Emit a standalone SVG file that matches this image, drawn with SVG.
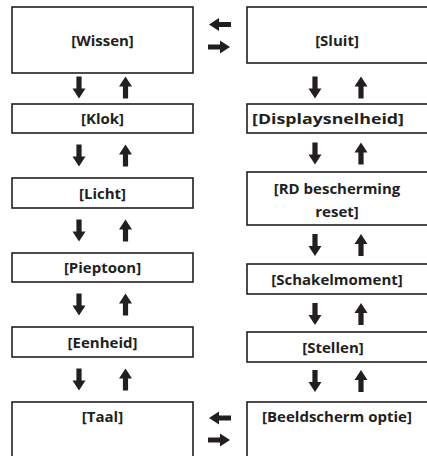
<svg xmlns="http://www.w3.org/2000/svg" width="427" height="456" viewBox="0 0 427 456">
<style>
.box{fill:#fff;stroke:#231f20;stroke-width:1.6}
.t{font-family:"Open Sans","Noto Sans",sans-serif;font-weight:700;font-size:15px;fill:#231f20;text-anchor:middle}
.ar{fill:#231f20}
</style>
<defs>
<path id="dn" d="M-2.6,0 H2.6 V12 H6.5 L0,22 L-6.5,12 H-2.6 Z"/>
</defs>
<rect width="427" height="456" fill="#fff"/>
<g id="wissen"><rect class="box" x="12" y="7" width="181" height="66"/><text class="t" x="102.5" y="46">[Wissen]</text></g>
<g id="klok"><rect class="box" x="12" y="104" width="181" height="29"/><text class="t" x="102.5" y="124">[Klok]</text></g>
<g id="licht"><rect class="box" x="12" y="178" width="181" height="30"/><text class="t" x="102.5" y="198.5">[Licht]</text></g>
<g id="pieptoon"><rect class="box" x="12" y="253" width="181" height="29"/><text class="t" x="102.5" y="273">[Pieptoon]</text></g>
<g id="eenheid"><rect class="box" x="12" y="327" width="181" height="30"/><text class="t" x="102.5" y="347.5">[Eenheid]</text></g>
<g id="taal"><rect class="box" x="12" y="402" width="181" height="70"/><text class="t" x="102.5" y="421.5">[Taal]</text></g>
<g id="sluit"><rect class="box" x="247" y="7" width="200" height="56"/><text class="t" x="337" y="46">[Sluit]</text></g>
<g id="displaysnelheid"><rect class="box" x="247" y="104" width="200" height="29"/><text class="t" x="328" y="124" textLength="152" lengthAdjust="spacingAndGlyphs">[Displaysnelheid]</text></g>
<g id="rd"><rect class="box" x="247" y="172" width="200" height="53"/><text class="t" x="337" y="194">[RD bescherming</text><text class="t" x="337" y="217">reset]</text></g>
<g id="schakelmoment"><rect class="box" x="247" y="264" width="200" height="30"/><text class="t" x="337" y="284.5">[Schakelmoment]</text></g>
<g id="stellen"><rect class="box" x="247" y="332" width="200" height="30"/><text class="t" x="333" y="352.5">[Stellen]</text></g>
<g id="beeldscherm"><rect class="box" x="247" y="402" width="200" height="70"/><text class="t" x="337" y="421.5">[Beeldscherm optie]</text></g>
<g id="connectors" class="ar">
<use href="#dn" x="79" y="76.5"/><use href="#dn" transform="translate(125.5,98.5) rotate(180)"/>
<use href="#dn" x="79" y="144.5"/><use href="#dn" transform="translate(125.5,166.5) rotate(180)"/>
<use href="#dn" x="79" y="219.5"/><use href="#dn" transform="translate(125.5,241.5) rotate(180)"/>
<use href="#dn" x="79" y="293.5"/><use href="#dn" transform="translate(125.5,315.5) rotate(180)"/>
<use href="#dn" x="79" y="368.5"/><use href="#dn" transform="translate(125.5,390.5) rotate(180)"/>
<use href="#dn" x="315" y="76.5"/><use href="#dn" transform="translate(361,98.5) rotate(180)"/>
<use href="#dn" x="315" y="142.5"/><use href="#dn" transform="translate(361,164.5) rotate(180)"/>
<use href="#dn" x="315" y="234"/><use href="#dn" transform="translate(361,256) rotate(180)"/>
<use href="#dn" x="315" y="303"/><use href="#dn" transform="translate(361,325) rotate(180)"/>
<use href="#dn" x="315" y="370"/><use href="#dn" transform="translate(361,392) rotate(180)"/>
<use href="#dn" transform="translate(231,24.5) rotate(90)"/><use href="#dn" transform="translate(208,47) rotate(-90)"/>
<use href="#dn" transform="translate(231,418) rotate(90)"/><use href="#dn" transform="translate(208,440) rotate(-90)"/>
</g>
</svg>
